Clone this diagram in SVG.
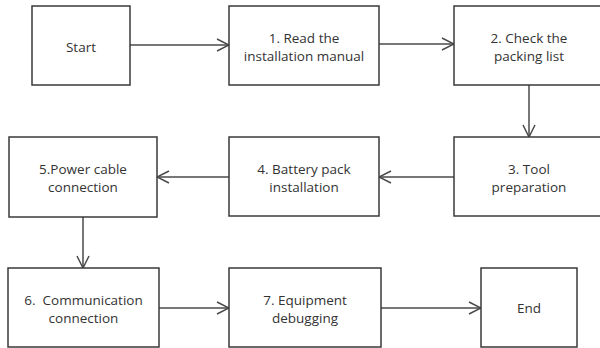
<svg xmlns="http://www.w3.org/2000/svg" width="600" height="348" viewBox="0 0 600 348">
<style>
.box{fill:#fff;stroke:#3a3a3a;stroke-width:1.5}
.t{font-family:"Open Sans","Liberation Sans",sans-serif;font-size:13.5px;fill:#333;text-anchor:middle}
.c{fill:none;stroke:#4a4a4a;stroke-width:1.5}
</style>
<defs>
<marker id="a" markerUnits="userSpaceOnUse" markerWidth="14" markerHeight="14" refX="12" refY="6" orient="auto" viewBox="-1 -1 14 14">
<path d="M0,0 L12,6 L0,12" fill="none" stroke="#4a4a4a" stroke-width="1.5"/>
</marker>
</defs>
<rect width="600" height="348" fill="#fff"/>
<g id="connectors">
<line class="c" x1="130" y1="45" x2="229" y2="45" marker-end="url(#a)"/>
<line class="c" x1="379" y1="44" x2="454" y2="44" marker-end="url(#a)"/>
<line class="c" x1="529" y1="85" x2="529" y2="137" marker-end="url(#a)"/>
<line class="c" x1="454" y1="177" x2="379" y2="177" marker-end="url(#a)"/>
<line class="c" x1="229" y1="177" x2="157" y2="177" marker-end="url(#a)"/>
<line class="c" x1="83" y1="217" x2="83" y2="268" marker-end="url(#a)"/>
<line class="c" x1="159" y1="308" x2="229" y2="308" marker-end="url(#a)"/>
<line class="c" x1="381" y1="308" x2="481" y2="308" marker-end="url(#a)"/>
</g>
<g id="start"><rect class="box" x="32" y="6" width="98" height="79"/><text class="t" x="81" y="51.5">Start</text></g>
<g id="step1"><rect class="box" x="229" y="6" width="150" height="79"/><text class="t" x="304" y="42.5">1. Read the</text><text class="t" x="304" y="60.5">installation manual</text></g>
<g id="step2"><rect class="box" x="454" y="6" width="150" height="79"/><text class="t" x="529" y="42.5">2. Check the</text><text class="t" x="529" y="60.5">packing list</text></g>
<g id="step3"><rect class="box" x="454" y="137" width="150" height="79"/><text class="t" x="529" y="173.5">3. Tool</text><text class="t" x="529" y="191.5">preparation</text></g>
<g id="step4"><rect class="box" x="229" y="137" width="150" height="79"/><text class="t" x="304" y="173.5">4. Battery pack</text><text class="t" x="304" y="191.5">installation</text></g>
<g id="step5"><rect class="box" x="9" y="137" width="148" height="80"/><text class="t" x="83" y="173.5">5.Power cable</text><text class="t" x="83" y="191.5">connection</text></g>
<g id="step6"><rect class="box" x="8" y="268" width="151" height="79"/><text class="t" x="83.5" y="304.5" xml:space="preserve">6.  Communication</text><text class="t" x="83.5" y="323">connection</text></g>
<g id="step7"><rect class="box" x="229" y="268" width="152" height="79"/><text class="t" x="305" y="304.5">7. Equipment</text><text class="t" x="305" y="323">debugging</text></g>
<g id="end"><rect class="box" x="481" y="268" width="96" height="79"/><text class="t" x="529" y="313">End</text></g>
</svg>
